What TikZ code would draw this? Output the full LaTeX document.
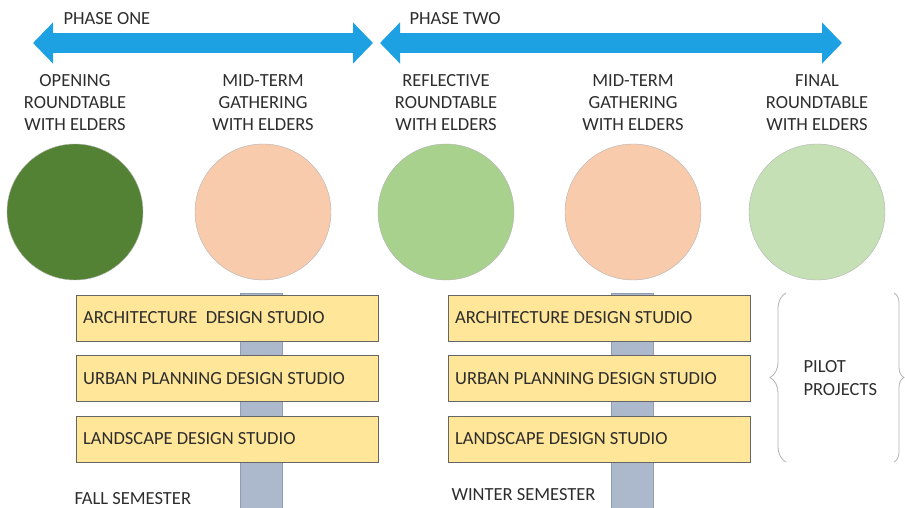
\documentclass[tikz,border=0pt]{standalone}
\usepackage{fontspec}
\setmainfont{Carlito}
\usetikzlibrary{arrows.meta, positioning, decorations.pathreplacing}

\definecolor{phaseblue}{RGB}{30,161,226}
\definecolor{darkgreen}{RGB}{84,130,53}
\definecolor{midgreen}{RGB}{169,209,142}
\definecolor{palegreen}{RGB}{197,224,180}
\definecolor{peach}{RGB}{248,203,173}
\definecolor{studioyellow}{RGB}{255,230,153}
\definecolor{semesterbar}{RGB}{172,184,204}
\definecolor{inkgray}{RGB}{45,45,45}

\tikzset{
    phasearrow/.style={line width=20pt, phaseblue,
        {Triangle[length=20pt,width=40pt]}-{Triangle[length=20pt,width=40pt]}},
    meeting/.style={circle, minimum size=136pt, inner sep=0pt, draw=gray!60, line width=0.4pt},
    meetlabel/.style={align=center, text=inkgray, font=\fontsize{18.5}{22}\selectfont},
    studio/.style={rectangle, minimum width=302pt, minimum height=46pt, inner sep=0pt,
        fill=studioyellow, draw=gray!80!black, line width=0.8pt},
    studiotext/.style={anchor=west, text=inkgray, font=\fontsize{18.5}{20}\selectfont},
    bar/.style={fill=semesterbar, draw=semesterbar!85!black, line width=0.4pt},
    plain/.style={anchor=west, text=inkgray, font=\fontsize{18.5}{23}\selectfont, align=left},
}

\begin{document}
\begin{tikzpicture}[x=1pt, y=1pt]
    \useasboundingbox (0,0) rectangle (905,508);

    % phase arrows
    \coordinate (oneL) at (33,465);
    \coordinate (oneR) at (373,465);
    \coordinate (twoL) at (380,465);
    \coordinate (twoR) at (842,465);
    \draw[phasearrow] (oneL) -- (oneR);
    \draw[phasearrow] (twoL) -- (twoR);
    \node[plain] (phaseone) at (60,489) {PHASE ONE};
    \node[plain] (phasetwo) at (406,489) {PHASE TWO};

    % meetings with the elders
    \node[meeting, fill=darkgreen] (m1) at (75,296) {};
    \node[meeting, fill=peach] (m2) at (263,296) {};
    \node[meeting, fill=midgreen] (m3) at (446,296) {};
    \node[meeting, fill=peach] (m4) at (633,296) {};
    \node[meeting, fill=palegreen] (m5) at (817,296) {};

    \node[meetlabel] (t1) at (75,405) {OPENING\\ROUNDTABLE\\WITH ELDERS};
    \node[meetlabel] (t2) at (263,405) {MID-TERM\\GATHERING\\WITH ELDERS};
    \node[meetlabel] (t3) at (446,405) {REFLECTIVE\\ROUNDTABLE\\WITH ELDERS};
    \node[meetlabel] (t4) at (633,405) {MID-TERM\\GATHERING\\WITH ELDERS};
    \node[meetlabel] (t5) at (817,405) {FINAL\\ROUNDTABLE\\WITH ELDERS};

    % semester bars behind the studios
    \draw[bar] (240,0) rectangle (282,215);
    \draw[bar] (611,0) rectangle (653,215);

    % fall studios
    \node[studio] (fa) at (227,190) {};
    \node[studio] (fu) at (227,129.5) {};
    \node[studio] (fl) at (227,69) {};
    \node[studiotext] at ([xshift=4pt]fa.west) {ARCHITECTURE\ \ DESIGN STUDIO};
    \node[studiotext] at ([xshift=4pt]fu.west) {URBAN PLANNING DESIGN STUDIO};
    \node[studiotext] at ([xshift=4pt]fl.west) {LANDSCAPE DESIGN STUDIO};

    % winter studios
    \node[studio] (wa) at (599,190) {};
    \node[studio] (wu) at (599,129.5) {};
    \node[studio] (wl) at (599,69) {};
    \node[studiotext] at ([xshift=4pt]wa.west) {ARCHITECTURE DESIGN STUDIO};
    \node[studiotext] at ([xshift=4pt]wu.west) {URBAN PLANNING DESIGN STUDIO};
    \node[studiotext] at ([xshift=4pt]wl.west) {LANDSCAPE DESIGN STUDIO};

    \node[plain] (fall) at (71,9) {FALL SEMESTER};
    \node[plain] (winter) at (448,13) {WINTER SEMESTER};

    % pilot projects bracket
    \draw[gray!60, line width=0.8pt, decorate, decoration={brace, amplitude=16pt}]
        (786,46) -- (786,215);
    \draw[gray!60, line width=0.8pt, decorate, decoration={brace, amplitude=10pt}]
        (894,215) -- (894,46);
    \node[plain] (pilot) at (800,130) {PILOT\\PROJECTS};
\end{tikzpicture}
\end{document}
